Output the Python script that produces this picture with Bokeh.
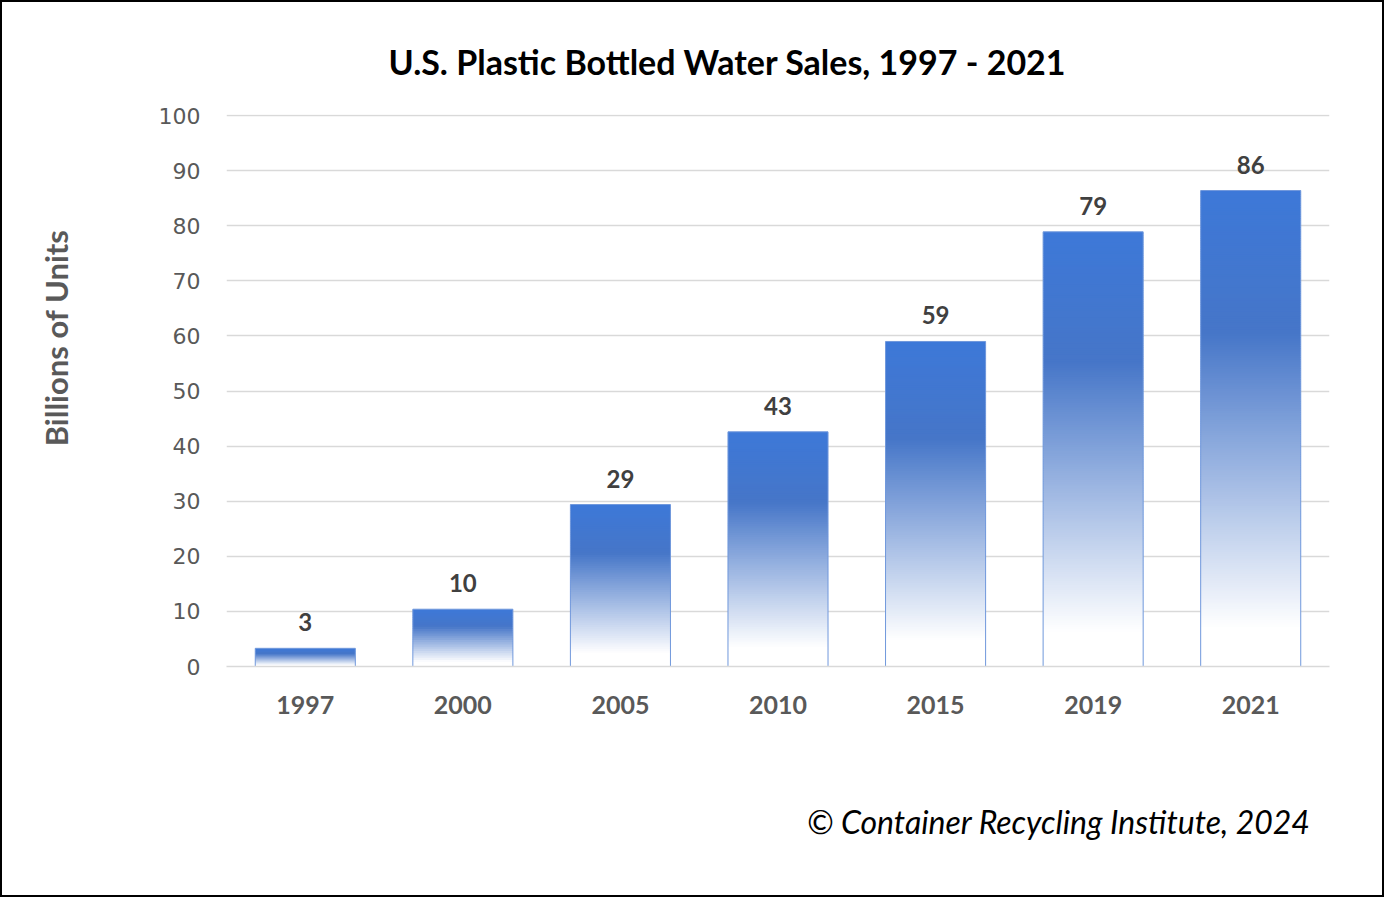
import math
from bokeh.plotting import figure
from bokeh.models import ColumnDataSource, FixedTicker, FactorRange, Title
from bokeh.core.properties import value
from bokeh.embed import file_html
from bokeh.resources import INLINE

years = ["1997", "2000", "2005", "2010", "2015", "2019", "2021"]
sales = [3.3, 10.4, 29.4, 42.6, 59.0, 78.9, 86.4]
labels = ["3", "10", "29", "43", "59", "79", "86"]
y_ticks = [0, 10, 20, 30, 40, 50, 60, 70, 80, 90, 100]

TITLE = "U.S. Plastic Bottled Water Sales, 1997 - 2021"
Y_LABEL = "Billions of Units"
CREDIT = "\u00a9 Container Recycling Institute, 2024"

FONT = "Lato"
BAR_W = 0.635

W, H = 1380, 893
p = figure(x_range=FactorRange(*years), y_range=(0, 100.2), width=W, height=H,
           output_backend="svg", toolbar_location=None,
           min_border_left=224, min_border_right=53, min_border_top=112,
           min_border_bottom=229, title=None)
p.styles = {"outline": "2px solid black", "margin": "2px"}
p.outline_line_color = None
p.background_fill_color = "white"
p.border_fill_color = "white"

# gradient stops (fraction from top of bar, rgb)
stops = [(0.0, (61, 120, 216)), (0.30, (70, 118, 200)), (0.92, (255, 255, 255)), (1.0, (255, 255, 255))]

def grad(f):
    for (f0, c0), (f1, c1) in zip(stops[:-1], stops[1:]):
        if f0 <= f <= f1:
            t = (f - f0) / (f1 - f0) if f1 > f0 else 0
            return "#%02x%02x%02x" % tuple(int(round(a + (b - a) * t)) for a, b in zip(c0, c1))
    return "#ffffff"

gx, gb, gt, gc = [], [], [], []
for yr, v in zip(years, sales):
    n = max(6, int(math.ceil(v / 0.4)))
    for i in range(n):
        bot = v * i / n
        top = min(v, v * (i + 1.5) / n)
        frac_from_top = 1 - (i + 0.5) / n
        gx.append(yr); gb.append(bot); gt.append(top); gc.append(grad(frac_from_top))

gsrc = ColumnDataSource(dict(x=gx, bottom=gb, top=gt, color=gc))
p.vbar(x="x", bottom="bottom", top="top", width=BAR_W, fill_color="color",
       line_color=None, source=gsrc)

src = ColumnDataSource(dict(x=years, top=sales, lab=labels))
p.vbar(x="x", top="top", width=BAR_W, fill_alpha=0, line_color="#7098dc", line_width=1, source=src)

p.text(x="x", y="top", text="lab", source=src, text_align="center", text_baseline="middle",
       y_offset=-26, text_font=value(FONT), text_font_style="bold", text_font_size="24px",
       text_color="#404040")

p.xgrid.grid_line_color = None
p.ygrid.grid_line_color = "#d9d9d9"
p.ygrid.grid_line_width = 1.5
p.yaxis.ticker = FixedTicker(ticks=y_ticks)
p.yaxis.axis_line_color = None
p.yaxis.major_tick_line_color = None
p.yaxis.minor_tick_line_color = None
p.yaxis.major_label_standoff = 20
p.yaxis.major_label_text_font = "DejaVu Sans"
p.yaxis.major_label_text_font_size = "22px"
p.yaxis.major_label_text_color = "#595959"
# blank axis label used only as spacer
p.yaxis.axis_label = " "
p.yaxis.axis_label_text_font_size = "1px"
p.yaxis.axis_label_standoff = 72

p.xaxis.axis_line_color = "#d9d9d9"
p.xaxis.axis_line_width = 1.5
p.xaxis.major_tick_line_color = None
p.xaxis.minor_tick_line_color = None
p.xaxis.major_label_standoff = 23
p.xaxis.major_label_text_font = FONT
p.xaxis.major_label_text_font_style = "bold"
p.xaxis.major_label_text_font_size = "25px"
p.xaxis.major_label_text_color = "#595959"
p.xaxis.axis_label = " "
p.xaxis.axis_label_text_font_size = "1px"
p.xaxis.axis_label_standoff = 74
p.x_range.range_padding = 0

p.add_layout(Title(text=TITLE, align="left", offset=162, standoff=65, text_font=FONT,
                   text_font_style="bold", text_font_size="34px", text_color="black"), "above")
p.add_layout(Title(text=Y_LABEL, align="right", offset=115, standoff=10, text_font=FONT,
                   text_font_style="bold", text_font_size="31px", text_color="#595959"), "left")
p.add_layout(Title(text=CREDIT, align="right", offset=19, standoff=10, text_font=FONT,
                   text_font_style="italic", text_font_size="32px", text_color="black"), "below")

open("out.html", "w").write(file_html(p, INLINE))
